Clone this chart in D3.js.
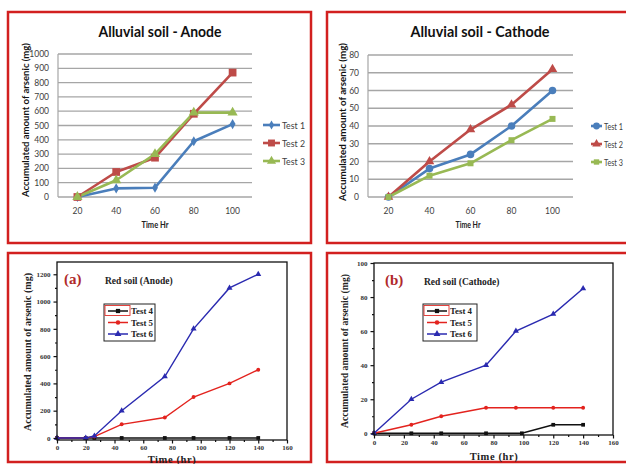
<!DOCTYPE html>
<html><head><meta charset="utf-8">
<script src="https://cdn.jsdelivr.net/npm/d3@7"></script>
<style>html,body{margin:0;padding:0;background:#fff;}svg{display:block;}</style>
</head><body>
<svg id="c" width="626" height="464"></svg>
<script>
// ---------- DATA ----------
const alluvialTimes = [20, 40, 60, 80, 100];
const alluvialSeries = ["Test 1", "Test 2", "Test 3"];
const anodeTest1 = [0, 60, 65, 390, 510];
const anodeTest2 = [0, 175, 275, 582, 870];
const anodeTest3 = [0, 117, 300, 590, 590];
const cathodeTest1 = [0, 16, 24, 40, 60];
const cathodeTest2 = [0, 20, 38, 52, 72];
const cathodeTest3 = [0, 12, 19, 32, 44];
const anodeYTicks = [0,100,200,300,400,500,600,700,800,900,1000];
const cathodeYTicks = [0,10,20,30,40,50,60,70,80];

const redSeries = ["Test 4", "Test 5", "Test 6"];
const redAnodeTimes = [0, 20, 26, 45, 75, 95, 120, 140];
const redAnodeTest4 = [0, 0, 0, 0, 0, 0, 0, 0];
const redAnodeTest5 = [0, 0, 10, 100, 150, 300, 400, 500];
const redAnodeTest6 = [0, 0, 15, 200, 450, 800, 1100, 1200];
const redCathodeTimes4 = [0, 25, 45, 75, 99, 120, 140];
const redCathodeTest4 = [0, 0, 0, 0, 0, 5, 5];
const redCathodeTimes = [0, 25, 45, 75, 95, 120, 140];
const redCathodeTest5 = [0, 5, 10, 15, 15, 15, 15];
const redCathodeTest6 = [0, 20, 30, 40, 60, 70, 85];
const redXTicks = [0,20,40,60,80,100,120,140,160];
const redAnodeYTicks = [0,200,400,600,800,1000,1200];
const redCathodeYTicks = [0,20,40,60,80,100];

// ---------- DRAW ----------
const svg = d3.select("#c");
const RED = "#d2201f";

function border(x,y,w,h){
  svg.append("rect").attr("x",x).attr("y",y).attr("width",w).attr("height",h)
    .attr("fill","none").attr("stroke",RED).attr("stroke-width",2.5);
}

const exColors = ["#4a7ebb", "#be4b48", "#98b954"];
const sans = "Lato, 'Open Sans', sans-serif";
const serif = "'Liberation Serif', 'DejaVu Serif', serif";

function excelPanel(o){
  const g = svg.append("g");
  const x = d3.scalePoint().domain(alluvialTimes).range([o.left,o.right]).padding(0.5);
  const y = d3.scaleLinear().domain(o.yDomain).range([o.bottom,o.top]);
  g.selectAll("line.grid").data(o.yTicks).join("line")
    .attr("x1",o.left).attr("x2",o.right).attr("y1",d=>y(d)).attr("y2",d=>y(d))
    .attr("stroke","#a6a6a6").attr("stroke-width",1.3);
  g.append("line").attr("x1",o.left).attr("x2",o.left).attr("y1",o.top).attr("y2",o.bottom)
    .attr("stroke","#a6a6a6").attr("stroke-width",1.2);
  g.selectAll("text.yt").data(o.yTicks).join("text")
    .attr("x",o.left-9).attr("y",d=>y(d)+3).attr("text-anchor","end")
    .attr("font-family",sans).attr("font-size",8.5).attr("fill","#404040").text(d=>d);
  g.selectAll("text.xt").data(alluvialTimes).join("text")
    .attr("x",d=>x(d)).attr("y",o.bottom+17).attr("text-anchor","middle")
    .attr("font-family",sans).attr("font-size",8.5).attr("fill","#404040").text(d=>d);
  g.append("text").attr("x",o.titleX).attr("y",o.titleY).attr("text-anchor","middle")
    .attr("font-family",sans).attr("font-weight","bold").attr("font-size",16)
    .attr("textLength",o.titleLen).attr("lengthAdjust","spacingAndGlyphs")
    .attr("fill","#111").text(o.title);
  g.append("text").attr("x",o.xTitleX).attr("y",o.bottom+31).attr("text-anchor","middle")
    .attr("font-family",sans).attr("font-weight","bold").attr("font-size",8.5)
    .attr("textLength",o.xTitleLen).attr("lengthAdjust","spacingAndGlyphs")
    .attr("fill","#222").text("Time Hr");
  g.append("text").attr("transform",`translate(${o.yTitleX},${o.yTitleY}) rotate(-90)`)
    .attr("text-anchor","middle").attr("font-family",sans).attr("font-weight","bold")
    .attr("font-size",9).attr("textLength",o.yTitleLen).attr("lengthAdjust","spacingAndGlyphs")
    .attr("fill","#111").text("Accumulated amount of arsenic (mg)");
  const line = d3.line().x((d,i)=>x(alluvialTimes[i])).y(d=>y(d));
  o.series.forEach((s,k)=>{
    g.append("path").attr("d",line(s)).attr("fill","none")
      .attr("stroke",exColors[k]).attr("stroke-width",2.6).attr("stroke-linejoin","round");
  });
  o.series.forEach((s,k)=>{
    g.selectAll(null).data(s).join("path")
      .attr("transform",(d,i)=>`translate(${x(alluvialTimes[i])},${y(d)})`)
      .attr("d",d3.symbol().type(o.symbols[k]).size(o.sizes[k]))
      .attr("fill",exColors[k]);
  });
  alluvialSeries.forEach((name,k)=>{
    const ly = o.legY + k*18;
    g.append("line").attr("x1",o.legX).attr("x2",o.legX+o.legLine).attr("y1",ly).attr("y2",ly)
      .attr("stroke",exColors[k]).attr("stroke-width",2.6);
    g.append("path").attr("transform",`translate(${o.legX+o.legLine/2},${ly})`)
      .attr("d",d3.symbol().type(o.symbols[k]).size(o.sizes[k]*0.8)).attr("fill",exColors[k]);
    g.append("text").attr("x",o.legX+o.legLine+2).attr("y",ly+3.5).attr("font-family",sans)
      .attr("font-size",o.legFont).attr("textLength",o.legTextLen).attr("lengthAdjust","spacingAndGlyphs")
      .attr("fill","#404040").text(name);
  });
}

function originPanel(o){
  const g = svg.append("g");
  const x = d3.scaleLinear().domain([0,160]).range([o.left,o.right]);
  const y = d3.scaleLinear().domain(o.yDomain).range([o.bottom,o.top]);
  const cols = ["#111111", "#e3231e", "#2a2ab0"];
  const syms = [d3.symbolSquare, d3.symbolCircle, d3.symbolTriangle];
  const sizes = [14, 12, 16];
  o.series.forEach((s,k)=>{
    const ts = o.times[k];
    const line = d3.line().x((d,i)=>x(ts[i])).y(d=>y(d));
    g.append("path").attr("d",line(s)).attr("fill","none").attr("stroke",cols[k]).attr("stroke-width",1.4);
    g.selectAll(null).data(s).join("path")
      .attr("transform",(d,i)=>`translate(${x(ts[i])},${y(d)})`)
      .attr("d",d3.symbol().type(syms[k]).size(sizes[k])).attr("fill",cols[k]);
  });
  g.append("rect").attr("x",o.left).attr("y",o.top).attr("width",o.right-o.left).attr("height",o.bottom-o.top)
    .attr("fill","none").attr("stroke","#111").attr("stroke-width",1.3);
  const xAxis = d3.axisBottom(x).tickValues(redXTicks).tickSize(3.5).tickPadding(2).tickFormat(d3.format("d"));
  const xMinor = d3.axisBottom(x).tickValues(d3.range(10,160,20)).tickSize(2).tickFormat("");
  const yAxis = d3.axisLeft(y).tickValues(o.yTicks).tickSize(3.5).tickPadding(3).tickFormat(d3.format("d"));
  const yMinor = d3.axisLeft(y).tickValues(o.yMinor).tickSize(2).tickFormat("");
  [xAxis,xMinor].forEach(a=>{
    const ga = g.append("g").attr("transform",`translate(0,${o.bottom})`).call(a);
    ga.select(".domain").remove();
    ga.selectAll("line").attr("stroke","#111").attr("stroke-width",1.2);
    ga.selectAll("text").attr("font-family",serif).attr("font-size",7).attr("font-weight","bold").attr("fill","#333");
  });
  [yAxis,yMinor].forEach(a=>{
    const ga = g.append("g").attr("transform",`translate(${o.left},0)`).call(a);
    ga.select(".domain").remove();
    ga.selectAll("line").attr("stroke","#111").attr("stroke-width",1.2);
    ga.selectAll("text").attr("font-family",serif).attr("font-size",7).attr("font-weight","bold").attr("fill","#333");
  });
  g.append("text").attr("x",o.letterX).attr("y",o.top+22).attr("font-family",serif)
    .attr("font-weight","bold").attr("font-size",15).attr("fill","#b02a2a").text(o.letter);
  g.append("text").attr("x",o.titleX).attr("y",o.top+22).attr("font-family",serif)
    .attr("font-weight","bold").attr("font-size",9.5).attr("fill","#222").text(o.title);
  g.append("text").attr("x",o.xTitleX).attr("y",o.xTitleY).attr("text-anchor","middle")
    .attr("font-family",serif).attr("font-weight","bold").attr("font-size",10.5)
    .attr("letter-spacing",0.6).attr("fill","#222").text("Time (hr)");
  g.append("text").attr("transform",`translate(${o.yTitleX},${o.yTitleY}) rotate(-90)`)
    .attr("text-anchor","middle").attr("font-family",serif).attr("font-weight","bold")
    .attr("font-size",10).attr("textLength",o.yTitleLen).attr("lengthAdjust","spacingAndGlyphs")
    .attr("fill","#222").text("Accumulated amount of arsenic (mg)");
  g.append("rect").attr("x",o.legX).attr("y",o.legY).attr("width",o.legW).attr("height",37)
    .attr("fill","#fff").attr("stroke","#222").attr("stroke-width",1);
  g.append("rect").attr("x",o.legX+1).attr("y",o.legY+1.5).attr("width",25).attr("height",10)
    .attr("fill","none").attr("stroke","#e0302a").attr("stroke-width",0.9);
  redSeries.forEach((name,k)=>{
    const ly = o.legY + 7 + k*11.5;
    g.append("line").attr("x1",o.legX+4).attr("x2",o.legX+24).attr("y1",ly).attr("y2",ly)
      .attr("stroke",cols[k]).attr("stroke-width",1.5);
    g.append("path").attr("transform",`translate(${o.legX+14},${ly})`)
      .attr("d",d3.symbol().type(syms[k]).size(sizes[k]+4)).attr("fill",cols[k]);
    g.append("text").attr("x",o.legX+27).attr("y",ly+3.2).attr("font-family",serif)
      .attr("font-weight","bold").attr("font-size",9).attr("textLength",22)
      .attr("lengthAdjust","spacingAndGlyphs").attr("fill","#222").text(name);
  });
}

border(8,12,303,231);
border(327,12,310,231);
border(8,253,303,209);
border(327,253,310,209);

excelPanel({left:58,right:252,top:54,bottom:197,yDomain:[0,1000],yTicks:anodeYTicks,
  series:[anodeTest1,anodeTest2,anodeTest3],
  symbols:[d3.symbolDiamond,d3.symbolSquare,d3.symbolTriangle],sizes:[30,60,45],
  title:"Alluvial soil - Anode",titleX:160,titleY:37,titleLen:123,
  xTitleX:155,xTitleLen:27,yTitleX:29,yTitleY:120,yTitleLen:154,
  legX:263,legY:125,legLine:17,legTextLen:23,legFont:9.5});

excelPanel({left:368,right:573,top:55,bottom:197,yDomain:[0,80],yTicks:cathodeYTicks,
  series:[cathodeTest1,cathodeTest2,cathodeTest3],
  symbols:[d3.symbolCircle,d3.symbolTriangle,d3.symbolSquare],sizes:[45,40,36],
  title:"Alluvial soil - Cathode",titleX:480,titleY:37,titleLen:139,
  xTitleX:468,xTitleLen:25,yTitleX:346,yTitleY:122,yTitleLen:158,
  legX:591,legY:126,legLine:11,legTextLen:19,legFont:8.5});

originPanel({left:57,right:287,top:262,bottom:440,yDomain:[-15,1290],
  yTicks:redAnodeYTicks,yMinor:d3.range(100,1300,200),
  times:[redAnodeTimes,redAnodeTimes,redAnodeTimes],
  series:[redAnodeTest4,redAnodeTest5,redAnodeTest6],
  letter:"(a)",letterX:64,title:"Red soil (Anode)",titleX:105,
  xTitleX:172,xTitleY:463,yTitleX:31,yTitleY:352,yTitleLen:158,
  legX:104,legY:304,legW:51});

originPanel({left:374,right:613,top:263,bottom:435,yDomain:[-1,100],
  yTicks:redCathodeYTicks,yMinor:d3.range(10,100,20),
  times:[redCathodeTimes4,redCathodeTimes,redCathodeTimes],
  series:[redCathodeTest4,redCathodeTest5,redCathodeTest6],
  letter:"(b)",letterX:385,title:"Red soil (Cathode)",titleX:424,
  xTitleX:494,xTitleY:460,yTitleX:348,yTitleY:351,yTitleLen:154,
  legX:423,legY:304,legW:54});
</script>
</body></html>
